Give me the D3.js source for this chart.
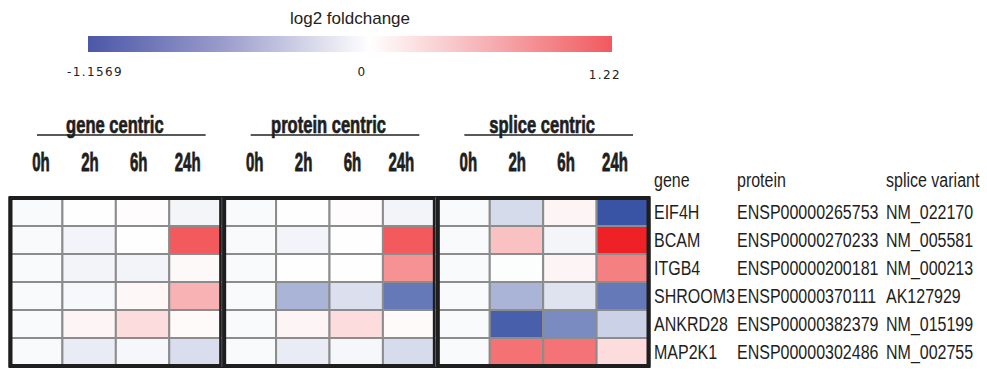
<!DOCTYPE html>
<html>
<head>
<meta charset="utf-8">
<script src="https://cdn.jsdelivr.net/npm/d3@7"></script>
<style>
  html, body { margin: 0; padding: 0; background: #fff; }
  svg { display: block; }
</style>
</head>
<body>
<svg id="chart" width="987" height="371"></svg>
<script>
// Time course and the three quantification views
const timepoints = ["0h", "2h", "6h", "24h"];
const views = ["gene centric", "protein centric", "splice centric"];

// Row annotations
const genes = ["EIF4H", "BCAM", "ITGB4", "SHROOM3", "ANKRD28", "MAP2K1"];
const proteins = ["ENSP00000265753", "ENSP00000270233", "ENSP00000200181",
                  "ENSP00000370111", "ENSP00000382379", "ENSP00000302486"];
const spliceVariants = ["NM_022170", "NM_005581", "NM_000213",
                        "AK127929", "NM_015199", "NM_002755"];
const annotationHeaders = ["gene", "protein", "splice variant"];

// log2 fold changes, one row per gene, one column per time point
const geneCentric = [
  [-0.03,  0.00,  0.01, -0.06],
  [-0.03, -0.07,  0.00,  0.91],
  [-0.03, -0.07, -0.07,  0.03],
  [-0.03, -0.04,  0.04,  0.42],
  [-0.03,  0.05,  0.19,  0.02],
  [-0.03, -0.12, -0.05, -0.22]
];
const proteinCentric = [
  [-0.03,  0.00,  0.01, -0.07],
  [-0.03, -0.07,  0.00,  0.91],
  [-0.03,  0.00,  0.00,  0.60],
  [-0.03, -0.50, -0.20, -0.90],
  [-0.03,  0.05,  0.19,  0.02],
  [-0.03, -0.12, -0.05, -0.23]
];
const spliceCentric = [
  [-0.03, -0.24,  0.05, -1.15],
  [-0.03,  0.34, -0.06,  1.22],
  [-0.03, -0.01,  0.05,  0.70],
  [-0.03, -0.50, -0.18, -0.90],
  [-0.03, -1.07, -0.78, -0.30],
  [-0.03,  0.78,  0.77,  0.19]
];

// Colour legend extent
const legendTicks = [-1.1569, 0, 1.22];
const legendTickLabels = ["-1.1569", "0", "1.22"];

const matrices = [geneCentric, proteinCentric, spliceCentric];

const svg = d3.select("#chart");
const sans = "Liberation Sans, Arial, Helvetica, sans-serif";

// Condensed lettering: a regular face squeezed horizontally
function narrowText(parent, x, y, str, opts) {
  const t = parent.append("text")
    .attr("transform", `translate(${x},${y}) scale(${opts.sx},1)`)
    .attr("text-anchor", opts.anchor || "start")
    .attr("font-family", sans)
    .attr("font-weight", opts.weight || "normal")
    .attr("font-size", opts.size)
    .attr("fill", "#1e1e1e")
    .text(str);
  if (opts.heavy) {
    t.attr("stroke", "#1e1e1e").attr("stroke-width", opts.heavy).attr("stroke-linejoin", "round");
  }
  return t;
}

const color = d3.scaleLinear()
  .domain([legendTicks[0], 0, legendTicks[2]])
  .range(["#3953a4", "#fefefe", "#ee2226"])
  .clamp(true);

// ---------- legend ----------
const legendX = d3.scaleLinear()
  .domain([legendTicks[0], legendTicks[2]])
  .range([88, 612]);

const defs = svg.append("defs");
const grad = defs.append("linearGradient").attr("id", "fcGrad")
  .attr("x1", "0%").attr("x2", "100%").attr("y1", "0%").attr("y2", "0%");
const legendStops = [
  { v: legendTicks[0], c: "#4b57a8" },
  { v: -0.55, c: "#9a9bcb" },
  { v: 0.12, c: "#ffffff" },
  { v: 0.65, c: "#f6b1b4" },
  { v: legendTicks[2], c: "#f1595e" }
];
grad.selectAll("stop").data(legendStops).join("stop")
  .attr("offset", d => ((legendX(d.v) - legendX.range()[0]) / (legendX.range()[1] - legendX.range()[0]) * 100) + "%")
  .attr("stop-color", d => d.c);

svg.append("text")
  .attr("x", 350).attr("y", 24)
  .attr("text-anchor", "middle")
  .attr("font-family", sans)
  .attr("font-size", 17)
  .attr("fill", "#222")
  .text("log2 foldchange");

svg.append("rect")
  .attr("x", legendX.range()[0]).attr("y", 36)
  .attr("width", legendX.range()[1] - legendX.range()[0]).attr("height", 16)
  .attr("fill", "url(#fcGrad)");

const tickPos = [95, 362, 605];
svg.selectAll("text.legtick").data(legendTickLabels).join("text")
  .attr("class", "legtick")
  .attr("x", (d, i) => tickPos[i])
  .attr("y", (d, i) => i === 2 ? 79 : 76)
  .attr("text-anchor", "middle")
  .attr("font-family", "DejaVu Sans, Verdana, sans-serif")
  .attr("font-size", 12)
  .attr("letter-spacing", 1.4)
  .attr("fill", "#222")
  .text(d => d);

// ---------- heatmap ----------
const panelScale = d3.scaleBand().domain(views).range([9, 650]).padding(0);
const colScale = d3.scaleBand().domain(timepoints).range([0, panelScale.bandwidth()]).padding(0);
const rowScale = d3.scaleBand().domain(genes).range([198, 366]).padding(0);

const panels = svg.selectAll("g.panel").data(views).join("g")
  .attr("class", "panel")
  .attr("transform", d => `translate(${panelScale(d)},0)`);

panels.each(function (view, pi) {
  const g = d3.select(this);
  const cells = [];
  matrices[pi].forEach((row, ri) => row.forEach((v, ci) => cells.push({ gene: genes[ri], t: timepoints[ci], v })));

  g.selectAll("rect.cell").data(cells).join("rect")
    .attr("class", "cell")
    .attr("x", d => colScale(d.t))
    .attr("y", d => rowScale(d.gene))
    .attr("width", colScale.bandwidth())
    .attr("height", rowScale.bandwidth())
    .attr("fill", d => color(d.v))
    .attr("stroke", "#8c8c8c")
    .attr("stroke-width", 2);

  g.append("rect")
    .attr("x", 1.5).attr("y", rowScale.range()[0])
    .attr("width", panelScale.bandwidth() - 3)
    .attr("height", rowScale.range()[1] - rowScale.range()[0])
    .attr("fill", "none")
    .attr("stroke", "#1e1e1e")
    .attr("stroke-width", 4);

  // view title with rule beneath
  const bw = panelScale.bandwidth();
  g.append("line")
    .attr("x1", 28).attr("x2", bw - 17)
    .attr("y1", 135).attr("y2", 135)
    .attr("stroke", "#222").attr("stroke-width", 1.6);
  narrowText(g, bw / 2 - 1, 133, view, { sx: 0.72, size: 23, weight: "bold", anchor: "middle", heavy: 0.7 });

  const labelScale = d3.scalePoint().domain(timepoints).range([32, bw - 35]);
  timepoints.forEach(t => {
    narrowText(g, labelScale(t), 171, t, { sx: 0.6, size: 25, weight: "bold", anchor: "middle", heavy: 0.8 });
  });
});

// ---------- row annotations ----------
const annotX = [654, 737, 886];
const annotCols = [genes, proteins, spliceVariants];
const annotOpts = { sx: 0.8, size: 20 };

annotationHeaders.forEach((h, i) => narrowText(svg, annotX[i], 187, h, annotOpts));

annotCols.forEach((col, ci) => {
  col.forEach((label, ri) => {
    narrowText(svg, annotX[ci], rowScale(genes[ri]) + rowScale.bandwidth() / 2 + 7, label, annotOpts);
  });
});
</script>
</body>
</html>
